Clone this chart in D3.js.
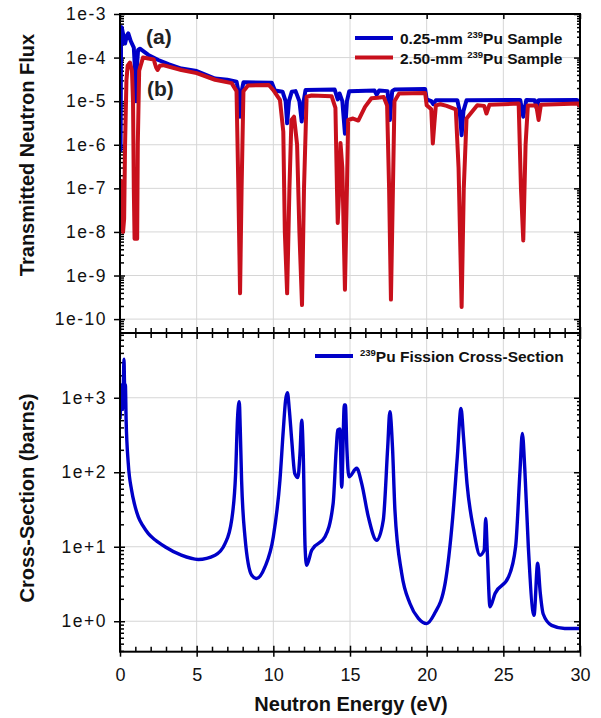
<!DOCTYPE html>
<html lang="en">
<head>
<meta charset="utf-8">
<title>Pu-239 transmission and fission cross-section</title>
<script src="https://d3js.org/d3.v7.min.js"></script>
<style>
  body { margin: 0; background: #fff; }
  text { font-family: "Liberation Sans", Arial, sans-serif; }
  .grid line { stroke: #d6d6d6; stroke-width: 1; }
  .ax path { display: none; }
  .ax line { stroke: #000; stroke-width: 1.5; }
</style>
</head>
<body>
<div id="chart"></div>
<script>
// ---- data: [energy eV, value] ----
const thinFlux = [[0.00,7e-7],[0.04,8e-7],[0.07,3e-4],[0.11,5e-4],[0.2,3.5e-4],[0.33,2.1e-4],[0.45,3.2e-4],[0.54,3.6e-4],
  [0.7,2.4e-4],[0.9,1.7e-4],[0.97,6e-5],[1.0,1.2e-5],[1.06,1e-5],[1.1,6e-5],[1.18,1.5e-4],[1.3,1.6e-4],[1.85,1.15e-4],
  [2.5,8.8e-5],[3.2,7e-5],[4.0,5.6e-5],[5.0,4.9e-5],[6.2,3.3e-5],[7.0,3.1e-5],[7.6,2.8e-5],[7.74,1.6e-5],[7.83,4.4e-6],
  [7.92,1.6e-5],[8.05,2.7e-5],[9.9,2.65e-5],[10.1,1.75e-5],[10.6,1.65e-5],[10.8,1e-5],[10.9,3.1e-6],[11.02,1e-5],
  [11.2,1.65e-5],[11.45,1.7e-5],[11.7,1e-5],[11.85,3.4e-6],[11.98,1e-5],[12.1,1.8e-5],[14.0,1.85e-5],[14.2,1.1e-5],
  [14.32,1.5e-5],[14.5,1e-5],[14.67,1.8e-6],[14.8,1e-5],[14.95,1.7e-5],[16.6,1.75e-5],[16.74,1.4e-5],[16.9,1.75e-5],
  [17.45,1.7e-5],[17.6,3.7e-6],[17.75,1.7e-5],[17.9,1.85e-5],[19.9,1.9e-5],[20.0,1.1e-5],[20.3,1e-5],[20.43,8.5e-6],
  [20.6,1.05e-5],[22.0,1.05e-5],[22.15,6e-6],[22.28,1.66e-6],[22.4,6e-6],[22.6,1.05e-5],[26.1,1.07e-5],[26.3,4.4e-6],
  [26.5,1.07e-5],[27.05,1.05e-5],[27.17,7e-6],[27.3,1.05e-5],[29.8,1.07e-5],[30,9e-6]];

const thickFlux = [[0.00,1.5e-7],[0.03,3e-8],[0.06,1.5e-7],[0.1,1.2e-8],[0.15,8e-8],[0.2,1e-8],[0.27,2e-8],[0.33,1e-6],
  [0.42,3e-5],[0.5,6.5e-5],[0.65,7.7e-5],[0.78,5e-5],[0.85,1e-5],[0.9,1e-7],[0.95,7e-9],[1.12,7e-9],[1.16,1e-6],[1.25,5e-5],
  [1.5,1e-4],[2.2,9e-5],[2.35,6e-5],[2.45,5.2e-5],[2.6,6.5e-5],[2.8,6.7e-5],[4.0,5.2e-5],[5.0,4.4e-5],[6.2,3.1e-5],
  [7.28,2.6e-5],[7.6,1.7e-5],[7.72,1e-7],[7.83,3.9e-10],[7.93,1e-7],[8.05,1.7e-5],[8.35,2.3e-5],[9.7,2.35e-5],[10.0,1.8e-5],
  [10.43,1.07e-5],[10.65,2e-6],[10.75,1e-8],[10.9,3.9e-10],[11.05,1e-7],[11.18,3.7e-6],[11.35,4.4e-6],[11.55,1e-6],
  [11.7,1e-8],[11.87,2.1e-10],[12.0,1e-7],[12.17,1.26e-5],[12.5,1.35e-5],[13.8,1.3e-5],[14.05,7e-6],[14.15,1e-7],
  [14.2,1.6e-8],[14.3,1e-7],[14.38,1.1e-6],[14.5,3e-7],[14.67,4.7e-10],[14.8,1e-7],[14.88,3.7e-6],[15.2,4e-6],[15.54,3.6e-6],
  [15.98,7.4e-6],[16.4,1.17e-5],[16.8,1.2e-5],[17.2,1.25e-5],[17.42,8e-6],[17.55,1e-7],[17.67,2.8e-10],[17.8,1e-7],
  [17.9,1e-5],[18.2,1.5e-5],[19.9,1.55e-5],[20.0,8.1e-6],[20.3,6.5e-6],[20.4,1.07e-6],[20.5,3e-6],[20.6,8e-6],
  [20.9,8.5e-6],[21.3,7.8e-6],[21.9,6.5e-6],[22.08,3e-7],[22.28,1.9e-10],[22.42,1e-7],[22.6,4e-6],[23.3,8.1e-6],
  [23.75,7.8e-6],[23.9,5.2e-6],[24.1,8.3e-6],[26.0,8.8e-6],[26.15,1e-7],[26.3,6.4e-9],[26.45,1e-6],[26.6,8e-6],
  [27.15,8e-6],[27.3,3.7e-6],[27.45,8.3e-6],[29.9,8.8e-6],[30,7.5e-6]];

const fissionXS = [[0.0,520],[0.06,900],[0.11,1480],[0.16,700],[0.22,1500],[0.26,3280],[0.3,1500],[0.35,1500],[0.4,500],
  [0.54,131],[0.76,57],[0.95,37],[1.2,25],[1.5,19],[1.85,15],[2.3,12.3],[2.93,10],[4.0,7.7],[5.1,6.75],[6.2,7.7],[6.85,11],
  [7.28,22.7],[7.54,96],[7.67,556],[7.78,883],[7.84,400],[7.93,78],[8.15,13.6],[8.59,4.15],[8.91,3.74],[9.46,5.4],
  [10.0,13.6],[10.43,78],[10.65,368],[10.8,930],[10.92,1166],[11.04,700],[11.2,270],[11.4,96],[11.6,85],[11.74,180],
  [11.85,500],[11.95,180],[12.07,10],[12.17,5.65],[12.5,9],[13.37,13.6],[13.9,38],[14.1,200],[14.2,368],[14.34,380],
  [14.46,63],[14.63,800],[14.7,800],[14.8,200],[14.93,87],[15.44,113],[15.76,71],[16.2,25],[16.74,12.2],[17.17,22.7],
  [17.46,219],[17.6,650],[17.77,219],[17.93,31],[18.37,4.4],[18.91,1.73],[19.46,1.09],[20.0,0.93],[20.5,1.25],[21.2,3.2],
  [21.7,25],[22.0,162],[22.24,720],[22.4,300],[22.63,71],[23.07,16.7],[23.48,7.7],[23.75,9],[23.85,24],[23.95,9],
  [24.13,1.56],[24.46,2.36],[25.33,3.9],[25.8,10],[26.09,107],[26.24,333],[26.4,110],[26.63,10],[27.0,1.2],[27.24,6.0],
  [27.4,2.5],[27.6,1.25],[28.15,0.88],[29.0,0.8],[30,0.8]];

const xTicks = [0, 5, 10, 15, 20, 25, 30];
const fluxTicks = [1e-3, 1e-4, 1e-5, 1e-6, 1e-7, 1e-8, 1e-9, 1e-10];
const fluxLabels = ["1e-3", "1e-4", "1e-5", "1e-6", "1e-7", "1e-8", "1e-9", "1e-10"];
const xsTicks = [1, 10, 100, 1000];
const xsLabels = ["1e+0", "1e+1", "1e+2", "1e+3"];

// ---- layout ----
const W = 601, H = 718;
const x0 = 120, x1 = 580;
const top1 = 14, bot1 = 333, top2 = 333, bot2 = 651.7;
const blue = "#0000c8", red = "#c8101c";

const svg = d3.select("#chart").append("svg").attr("width", W).attr("height", H);

const x = d3.scaleLinear().domain([0, 30]).range([x0, x1]);
const yFlux = d3.scaleLog().domain([4.8e-11, 1e-3]).range([bot1, top1]);
const yXS = d3.scaleLog().domain([0.39, 7400]).range([bot2, top2]);

// minor log ticks 2..9 of each decade inside the domain
function minorLog(scale) {
  const [a, b] = scale.domain();
  const out = [];
  for (let e = Math.floor(Math.log10(a)); e <= Math.ceil(Math.log10(b)); e++)
    for (let k = 2; k <= 9; k++) {
      const v = k * Math.pow(10, e);
      if (v > a && v < b) out.push(v);
    }
  return out;
}
const xMinor = d3.range(1, 30).filter(d => d % 5 !== 0);

function panel(y, yTop, yBot, yTicks, yLabels) {
  const g = svg.append("g");
  // grid
  g.append("g").attr("class", "grid")
    .selectAll("line").data(xTicks.slice(1, -1)).join("line")
    .attr("x1", d => x(d)).attr("x2", d => x(d)).attr("y1", yTop).attr("y2", yBot);
  g.append("g").attr("class", "grid")
    .selectAll("line").data(yTicks.filter(d => y(d) > yTop + 1)).join("line")
    .attr("x1", x0).attr("x2", x1).attr("y1", d => y(d)).attr("y2", d => y(d));

  // left axis: major ticks out, minor ticks in
  const left = g.append("g").attr("class", "ax").attr("transform", `translate(${x0},0)`)
    .call(d3.axisLeft(y).tickValues(yTicks).tickFormat((d, i) => yLabels[i]).tickSize(6).tickPadding(7));
  left.selectAll("text").attr("font-size", 17.5).attr("letter-spacing", "1.5px")
    .attr("font-family", "Liberation Sans, Arial, sans-serif").attr("fill", "#111");
  g.append("g").attr("class", "ax").attr("transform", `translate(${x0},0)`)
    .call(d3.axisRight(y).tickValues(minorLog(y)).tickFormat("").tickSize(4));
  g.append("g").attr("class", "ax").attr("transform", `translate(${x0},0)`)
    .call(d3.axisRight(y).tickValues(yTicks).tickFormat("").tickSize(5));
  // right axis: ticks inward
  g.append("g").attr("class", "ax").attr("transform", `translate(${x1},0)`)
    .call(d3.axisLeft(y).tickValues(yTicks).tickFormat("").tickSize(6));
  g.append("g").attr("class", "ax").attr("transform", `translate(${x1},0)`)
    .call(d3.axisLeft(y).tickValues(minorLog(y)).tickFormat("").tickSize(3));
  return g;
}

const gTop = panel(yFlux, top1, bot1, fluxTicks, fluxLabels);
const gBot = panel(yXS, top2, bot2, xsTicks, xsLabels);

// x ticks: top edge of upper panel (major, inward)
svg.append("g").attr("class", "ax").attr("transform", `translate(0,${top1})`)
  .call(d3.axisBottom(x).tickValues(xTicks).tickFormat("").tickSize(5));
// shared boundary line: majors cross, minors both ways
svg.append("g").attr("class", "ax").attr("transform", `translate(0,${bot1})`)
  .call(d3.axisTop(x).tickValues(xMinor).tickFormat("").tickSize(5));
svg.append("g").attr("class", "ax").attr("transform", `translate(0,${bot1})`)
  .call(d3.axisBottom(x).tickValues(xMinor).tickFormat("").tickSize(5));
svg.append("g").attr("class", "ax").attr("transform", `translate(0,${bot1})`)
  .call(d3.axisTop(x).tickValues(xTicks).tickFormat("").tickSize(6));
svg.append("g").attr("class", "ax").attr("transform", `translate(0,${bot1})`)
  .call(d3.axisBottom(x).tickValues(xTicks).tickFormat("").tickSize(6));
// bottom axis
svg.append("g").attr("class", "ax").attr("transform", `translate(0,${bot2})`)
  .call(d3.axisTop(x).tickValues(xMinor).tickFormat("").tickSize(5));
svg.append("g").attr("class", "ax").attr("transform", `translate(0,${bot2})`)
  .call(d3.axisTop(x).tickValues(xTicks).tickFormat("").tickSize(6));
const xb = svg.append("g").attr("class", "ax").attr("transform", `translate(0,${bot2})`)
  .call(d3.axisBottom(x).tickValues(xTicks).tickSize(5).tickPadding(12));
xb.selectAll("text").attr("font-size", 18).attr("fill", "#111")
  .attr("font-family", "Liberation Sans, Arial, sans-serif");

// curves
const clip = svg.append("defs");
clip.append("clipPath").attr("id", "c1").append("rect").attr("x", x0).attr("y", top1).attr("width", x1 - x0).attr("height", bot1 - top1);
clip.append("clipPath").attr("id", "c2").append("rect").attr("x", x0).attr("y", top2).attr("width", x1 - x0).attr("height", bot2 - top2);

const lineFlux = d3.line().x(d => x(d[0])).y(d => yFlux(d[1]));
const lineXS = d3.line().x(d => x(d[0])).y(d => yXS(d[1])).curve(d3.curveMonotoneX);

gTop.append("path").datum(thinFlux).attr("d", lineFlux).attr("clip-path", "url(#c1)")
  .attr("fill", "none").attr("stroke", blue).attr("stroke-width", 4).attr("stroke-linejoin", "round");
gTop.append("path").datum(thickFlux).attr("d", lineFlux).attr("clip-path", "url(#c1)")
  .attr("fill", "none").attr("stroke", red).attr("stroke-width", 4).attr("stroke-linejoin", "round");
gBot.append("path").datum(fissionXS).attr("d", lineXS).attr("clip-path", "url(#c2)")
  .attr("fill", "none").attr("stroke", blue).attr("stroke-width", 3.4).attr("stroke-linejoin", "round");

// frames
[[top1, bot1], [top2, bot2]].forEach(([a, b]) => {
  svg.append("rect").attr("x", x0).attr("y", a).attr("width", x1 - x0).attr("height", b - a)
    .attr("fill", "none").attr("stroke", "#000").attr("stroke-width", 2);
});

// legends
function legendRow(x, y, color, pre, post) {
  svg.append("line").attr("x1", x).attr("x2", x + 38).attr("y1", y).attr("y2", y)
    .attr("stroke", color).attr("stroke-width", 4);
  const t = svg.append("text").attr("x", x + 45).attr("y", y + 6)
    .attr("font-size", 15.5).attr("font-weight", "bold").attr("fill", "#111");
  t.append("tspan").text(pre);
  t.append("tspan").attr("font-size", 9.5).attr("dy", -6).text("239");
  t.append("tspan").attr("dy", 6).text(post);
}
legendRow(355, 38, blue, "0.25-mm ", "Pu Sample");
legendRow(355, 57.5, red, "2.50-mm ", "Pu Sample");
legendRow(315, 356, blue, "", "Pu Fission Cross-Section");

// panel letters
svg.append("text").attr("x", 146).attr("y", 44).attr("font-size", 21).attr("font-weight", "bold").attr("fill", "#222").text("(a)");
svg.append("text").attr("x", 147).attr("y", 96).attr("font-size", 21).attr("font-weight", "bold").attr("fill", "#222").text("(b)");

// axis titles
svg.append("text").attr("transform", "translate(34,155) rotate(-90)").attr("text-anchor", "middle")
  .attr("font-size", 20).attr("font-weight", "bold").attr("fill", "#111").text("Transmitted Neutron Flux");
svg.append("text").attr("transform", "translate(34,498) rotate(-90)").attr("text-anchor", "middle")
  .attr("font-size", 20).attr("font-weight", "bold").attr("fill", "#111").text("Cross-Section (barns)");
svg.append("text").attr("x", 351).attr("y", 711).attr("text-anchor", "middle")
  .attr("font-size", 20).attr("font-weight", "bold").attr("fill", "#111").text("Neutron Energy (eV)");
</script>
</body>
</html>
